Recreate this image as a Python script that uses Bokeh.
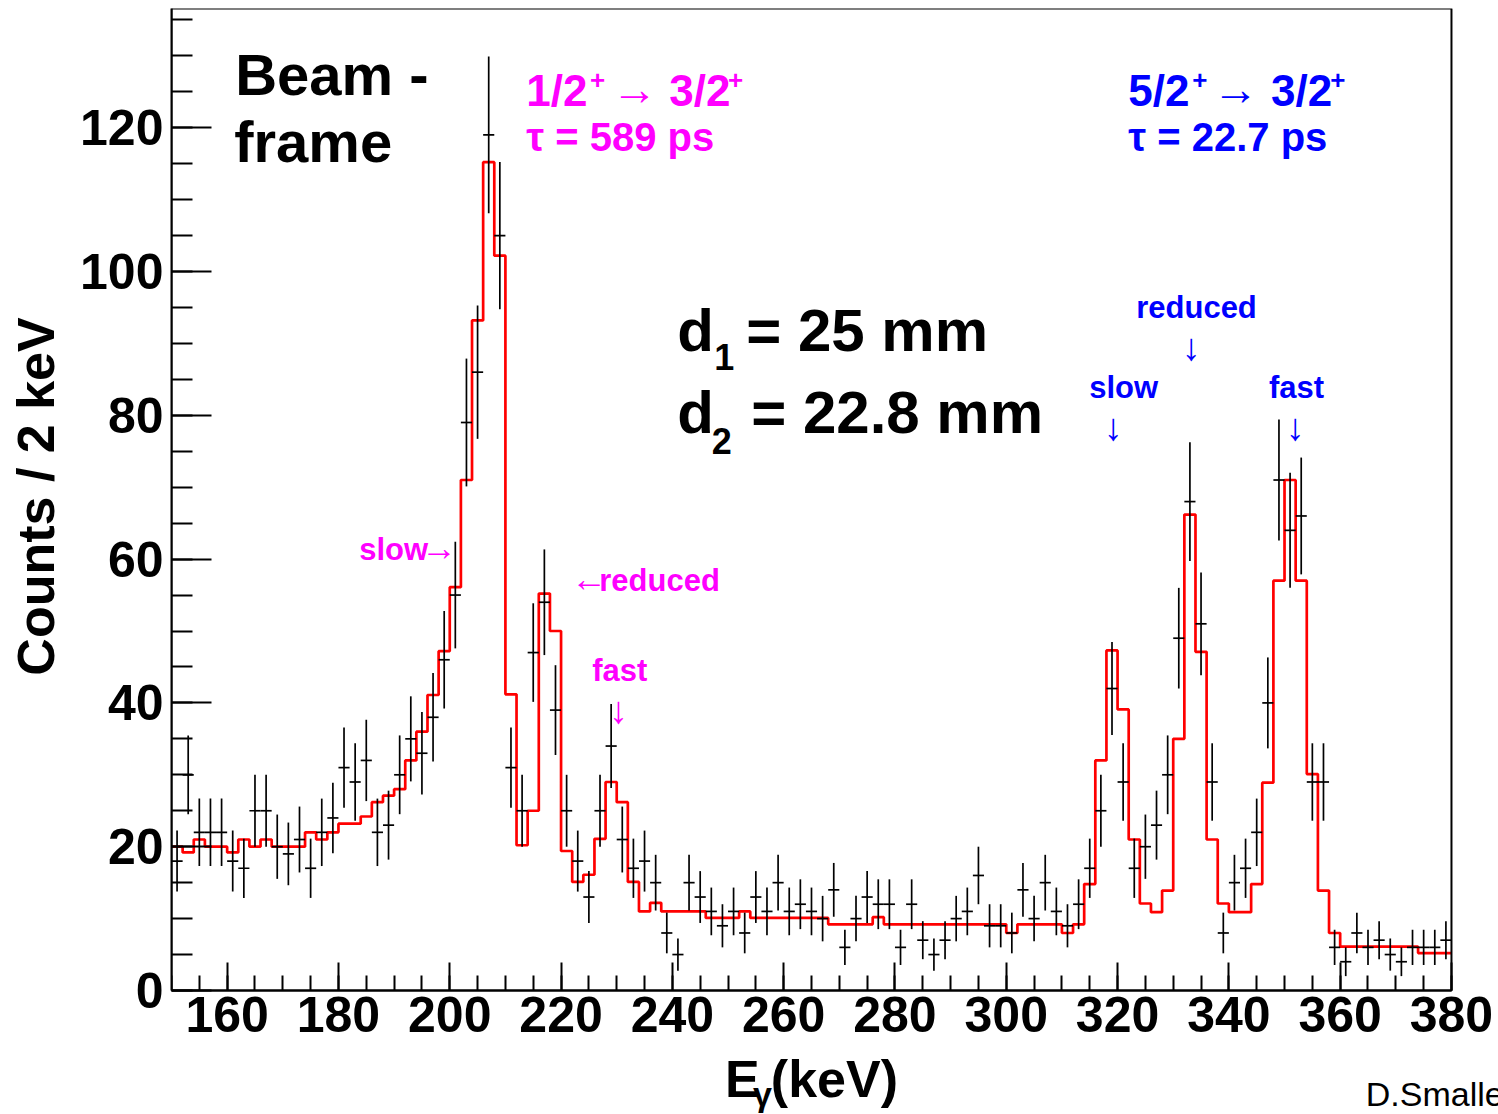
import math
from bokeh.plotting import figure
from bokeh.models import Label, Range1d, SingleIntervalTicker, ColumnDataSource, BoxAnnotation
from bokeh.embed import file_html
from bokeh.resources import INLINE

# ---------------- data ----------------
bin_start = 150.0
bin_width = 2.0

counts = [18, 30, 22, 22, 22, 18, 17, 25, 25, 20,
          19, 21, 17, 22, 24, 31, 29, 32, 22, 23,
          30, 35, 33, 38, 46, 55, 79, 86, 119, 105,
          31, 25, 47, 54, 39, 25, 18, 13, 25, 34,
          21, 17, 18, 15, 8, 5, 15, 13, 11, 9,
          11, 8, 13, 11, 15, 11, 12, 11, 10, 14,
          6, 10, 13, 12, 12, 6, 12, 7, 5, 7,
          10, 11, 16, 9, 9, 8, 14, 10, 15, 11,
          9, 12, 17, 25, 42, 29, 17, 20, 23, 30,
          49, 68, 51, 29, 8, 15, 17, 22, 40, 71,
          64, 66, 29, 29, 6, 4, 8, 6, 7, 5,
          4, 6, 6, 6, 7]

fit = [20, 19.2, 21, 20, 20, 19.2, 21, 20, 21, 20,
       20, 20, 22, 21, 22, 23.2, 23.2, 24.2, 26.2, 27.1,
       28, 32, 36, 41.1, 47.2, 56.1, 71, 93.2, 115.2, 102.2,
       41.2, 20.2, 25, 55.2, 50, 19.4, 15.1, 16.1, 21.1, 29,
       26.2, 15.1, 11, 12.2, 11, 11, 11, 11, 10.1, 10.1,
       10.1, 11, 10.1, 10.1, 10.1, 10.1, 10.1, 10.1, 10.1, 9.2,
       9.2, 9.2, 9.2, 10.2, 9.2, 9.2, 9.2, 9.2, 9.2, 9.2,
       9.2, 9.2, 9.2, 9.2, 9.2, 8.0, 9.2, 9.2, 9.2, 9.2,
       8.0, 9.2, 14.8, 32, 47.3, 39.1, 21, 12.1, 10.9, 13.9,
       35, 66.2, 47.1, 21, 12.1, 10.9, 10.9, 14.8, 28.9, 57,
       71, 57, 30.1, 13.9, 8, 6.1, 6.1, 6.1, 6.1, 6.1,
       6.1, 6.1, 5.2, 5.2, 5.2]

x_tick_labels = ["160", "180", "200", "220", "240", "260", "280", "300", "320", "340", "360", "380"]
y_tick_labels = ["0", "20", "40", "60", "80", "100", "120"]

x_lo, x_hi = 150.0, 380.0
y_lo, y_hi = 0.0, 136.58

# ---------------- derived ----------------
n = len(counts)
centers = [bin_start + bin_width * (i + 0.5) for i in range(n)]
edges = [bin_start + bin_width * i for i in range(n + 1)]
errs = [math.sqrt(c) for c in counts]

data_src = ColumnDataSource(dict(
    x=centers,
    y=counts,
    y0=[c - e for c, e in zip(counts, errs)],
    y1=[c + e for c, e in zip(counts, errs)],
    x0=[c - bin_width / 2 for c in centers],
    x1=[c + bin_width / 2 for c in centers],
))
fit_src = ColumnDataSource(dict(x=edges, y=fit + [fit[-1]]))

FONT = "Liberation Sans"

# frame spans from the left axis to the right/bottom canvas edges so that
# the axis title and credit sit inside it; the plot box itself is 150-380 x 0-136.58
p = figure(width=1498, height=1114, output_backend="svg", toolbar_location=None,
           x_range=Range1d(x_lo, 388.45), y_range=Range1d(-17.246, y_hi),
           min_border_left=171, min_border_right=0, min_border_top=8,
           min_border_bottom=0)
p.grid.visible = False
p.background_fill_color = "white"
p.border_fill_color = "white"
p.outline_line_color = None

p.add_layout(BoxAnnotation(left=x_lo, right=x_hi, bottom=y_lo, top=y_hi,
                           fill_color=None, fill_alpha=0, line_color="black",
                           line_alpha=1.0, line_width=2))

# axes
p.xaxis.ticker = SingleIntervalTicker(interval=20, num_minor_ticks=4)
p.yaxis.ticker = SingleIntervalTicker(interval=20, num_minor_ticks=4)
p.xaxis.major_label_overrides = {int(s): s for s in x_tick_labels}
p.yaxis.major_label_overrides = {int(s): s for s in y_tick_labels}
p.xaxis.fixed_location = 0
p.xaxis.bounds = (x_lo, x_hi)
p.yaxis.bounds = (y_lo, y_hi)
for ax in (p.xaxis[0], p.yaxis[0]):
    ax.axis_line_color = "black"
    ax.axis_line_width = 2
    ax.major_tick_line_width = 2
    ax.minor_tick_line_width = 2
    ax.major_tick_line_color = "black"
    ax.minor_tick_line_color = "black"
    ax.major_tick_out = 0
    ax.minor_tick_out = 0
    ax.major_label_text_font = FONT
    ax.major_label_text_font_style = "bold"
    ax.major_label_text_font_size = "50px"
    ax.major_label_text_color = "black"
p.xaxis.major_tick_in = 28
p.xaxis.minor_tick_in = 15
p.yaxis.major_tick_in = 40
p.yaxis.minor_tick_in = 21
p.xaxis.major_label_standoff = 6
p.yaxis.major_label_standoff = 8

# leading no-break spaces re-centre the title on the 0-136 box instead of the taller frame
p.yaxis.axis_label = "\u00a0" * 9 + "Counts / 2 keV"
p.yaxis.axis_label_text_font = FONT
p.yaxis.axis_label_text_font_style = "bold"
p.yaxis.axis_label_text_font_size = "52px"
p.yaxis.axis_label_text_color = "black"
p.yaxis.axis_label_standoff = 12

# fit histogram
p.step(x="x", y="y", source=fit_src, mode="after", line_color="#ff0000", line_width=2.7)

# data points with errors
p.segment(x0="x", y0="y0", x1="x", y1="y1", source=data_src, line_color="black", line_width=1.7)
p.segment(x0="x0", y0="y", x1="x1", y1="y", source=data_src, line_color="black", line_width=1.7)


def lab(x, y, text, size, color="black", bold=True, align="left", baseline="alphabetic",
        angle=0.0, font=FONT):
    p.add_layout(Label(x=x, y=y, text=text, text_font=font, text_font_size=f"{size}px",
                       text_font_style="bold" if bold else "normal", text_color=color,
                       text_align=align, text_baseline=baseline, angle=angle))


MAG = "#ff00ff"
BLU = "#0000ff"

lab(161.45, 127.45, "Beam -", 58)
lab(161.27, 118.13, "frame", 58)

# magenta transition
lab(213.74, 125.24, "1/2", 44, MAG)
lab(225.20, 126.69, "+", 26, MAG)
lab(229.10, 125.36, "\u2192", 46, MAG, bold=False)
lab(239.43, 125.24, "3/2", 44, MAG)
lab(250.00, 126.69, "+", 26, MAG)
lab(213.74, 118.75, "\u03c4 = 589 ps", 40, MAG)

# blue transition
lab(321.92, 125.24, "5/2", 44, BLU)
lab(333.40, 126.69, "+", 26, BLU)
lab(337.10, 125.36, "\u2192", 46, BLU, bold=False)
lab(347.59, 125.24, "3/2", 44, BLU)
lab(358.20, 126.69, "+", 26, BLU)
lab(321.92, 118.75, "\u03c4 = 22.7 ps", 40, BLU)

# distances
lab(240.87, 91.82, "d", 60)
lab(247.52, 88.05, "1", 36)
lab(253.27, 91.82, "= 25 mm", 60)
lab(240.87, 80.41, "d", 60)
lab(247.10, 76.37, "2", 36)
lab(254.17, 80.41, "= 22.8 mm", 60)

# magenta component labels
lab(183.73, 61.34, "slow", 31, MAG)
lab(194.90, 61.63, "\u2192", 36, MAG, bold=False)
lab(221.83, 57.30, "\u2190", 36, MAG, bold=False)
lab(226.86, 57.03, "reduced", 31, MAG)
lab(225.60, 44.51, "fast", 31, MAG)
lab(230.27, 39.08, "\u2193", 38, MAG, bold=False, align="center")

# blue component labels
lab(323.35, 95.00, "reduced", 31, BLU)
lab(333.20, 89.56, "\u2193", 38, BLU, bold=False, align="center")
lab(314.90, 83.87, "slow", 31, BLU)
lab(319.20, 78.44, "\u2193", 38, BLU, bold=False, align="center")
lab(347.20, 83.87, "fast", 31, BLU)
lab(351.90, 78.44, "\u2193", 38, BLU, bold=False, align="center")

# x axis title and credit
lab(249.46, -12.26, "E", 52)
lab(254.50, -14.42, "\u03b3", 34)
lab(257.70, -12.26, "(keV)", 52)
lab(364.60, -14.42, "D.Smalley", 34, bold=False)

html = file_html(p, INLINE)
open("out.html", "w").write(html)
